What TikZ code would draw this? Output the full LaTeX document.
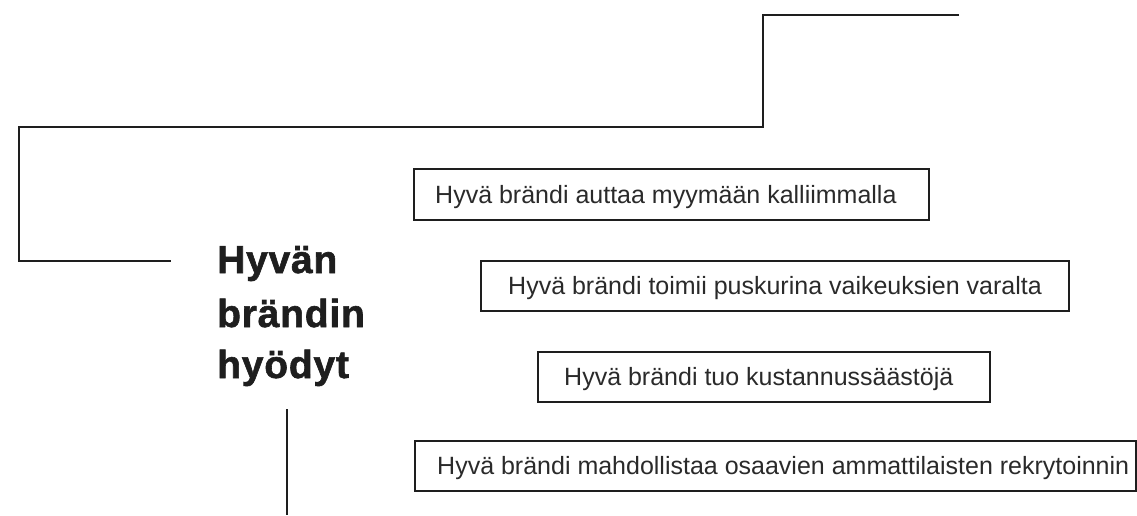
\documentclass[tikz,border=0pt]{standalone}
\usepackage{fontspec}
\setmainfont{Liberation Sans}
\definecolor{ink}{HTML}{1E1E1E}
\definecolor{txt}{HTML}{2A2A2A}
\begin{document}
\begin{tikzpicture}[x=1pt,y=-1pt,
  conn/.style={line width=2.6pt, draw=ink},
  box/.style={draw=ink, line width=2.2pt, inner sep=0pt, anchor=north west, minimum height=50pt},
  boxtext/.style={font=\fontsize{25}{28}\selectfont, text=txt, anchor=base west, inner sep=0pt},
  titletext/.style={font=\fontsize{39}{44}\selectfont\bfseries\addfontfeature{FakeBold=1.5,LetterSpace=2}, text=ink, anchor=base west, inner sep=0pt}]
\useasboundingbox (0,0) rectangle (1137,515);

% connector lines
\coordinate (c1) at (959,15);
\coordinate (c2) at (763,15);
\coordinate (c3) at (763,127);
\coordinate (c4) at (19,127);
\coordinate (c5) at (19,261);
\coordinate (c6) at (171,261);
\draw[conn] (c1) -- (c2) -- (c3) -- (c4) -- (c5) -- (c6);

\coordinate (v1) at (287,409);
\coordinate (v2) at (287,515);
\draw[conn] (v1) -- (v2);

% title
\node[titletext] (h1) at (217,273) {Hyvän};
\node[titletext] (h2) at (217,327) {brändin};
\node[titletext] (h3) at (217,378) {hyödyt};

% boxes
\node[box, minimum width=515pt, minimum height=51pt] (b1) at (413,168) {};
\node[boxtext] (t1) at (435,203) {Hyvä brändi auttaa myymään kalliimmalla};

\node[box, minimum width=588pt] (b2) at (480,260) {};
\node[boxtext] (t2) at (508,294) {Hyvä brändi toimii puskurina vaikeuksien varalta};

\node[box, minimum width=452pt] (b3) at (537,351) {};
\node[boxtext] (t3) at (564,385) {Hyvä brändi tuo kustannussäästöjä};

\node[box, minimum width=721pt] (b4) at (414,440) {};
\node[boxtext] (t4) at (437,474) {Hyvä brändi mahdollistaa osaavien ammattilaisten rekrytoinnin};
\end{tikzpicture}
\end{document}
